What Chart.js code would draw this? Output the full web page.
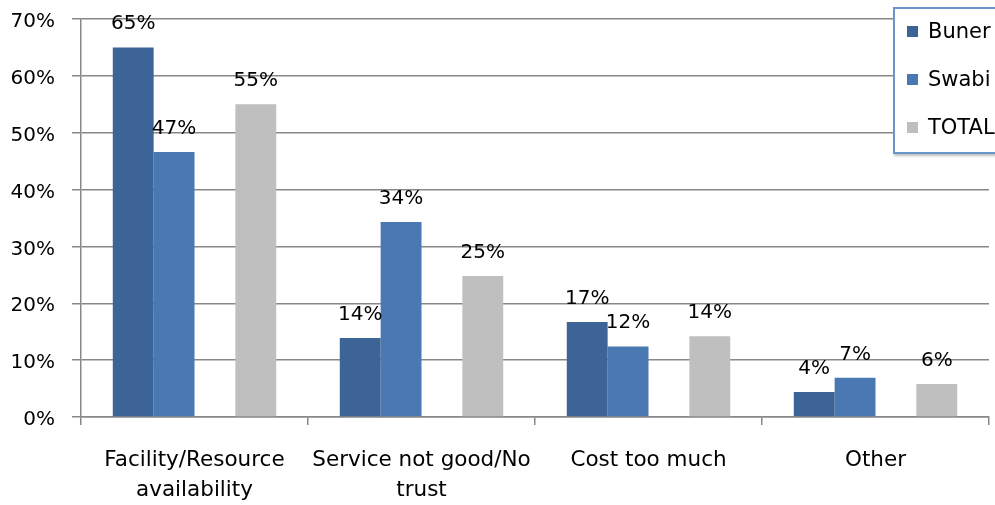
<!DOCTYPE html>
<html>
<head>
<meta charset="utf-8">
<script src="https://cdn.jsdelivr.net/npm/chart.js@4/dist/chart.umd.min.js"></script>
<style>
    body { margin: 0; background: #ffffff; }
    .wrap { position: relative; width: 995px; height: 505px; overflow: hidden; }
    .legenda {
        position: absolute; left: 893px; top: 7px; width: 120px; height: 143px;
        border: 2px solid #6a94cc; background: #ffffff;
        box-shadow: 1px 2px 2px rgba(0,0,0,0.25);
        font-family: "DejaVu Sans", sans-serif; font-size: 21px; color: #000;
    }
    .item { position: absolute; left: 12px; height: 24px; line-height: 24px; white-space: nowrap; }
    .item span { display: inline-block; width: 11px; height: 11px; margin-right: 10px; vertical-align: 1px; }
</style>
</head>
<body>
<div class="wrap">
    <canvas id="grafico" width="995" height="505"></canvas>
    <div class="legenda" id="legenda"></div>
</div>
<script>
const categorias = [
    ['Facility/Resource', 'availability'],
    ['Service not good/No', 'trust'],
    'Cost too much',
    'Other'
];
const buner = [65, 13.9, 16.7, 4.4];
const swabi = [46.6, 34.3, 12.4, 6.9];
const total = [55, 24.8, 14.2, 5.8];
const espaco = [null, null, null, null];
const ticksY = [0, 10, 20, 30, 40, 50, 60, 70];

const cores = { buner: '#3c6496', swabi: '#4a78b2', total: '#bfbfbf' };
const fonte = 'DejaVu Sans';

const rotulosBarras = {
    id: 'rotulosBarras',
    afterDatasetsDraw(chart) {
        const ctx = chart.ctx;
        ctx.save();
        ctx.font = '20px "' + fonte + '"';
        ctx.fillStyle = '#000';
        ctx.textAlign = 'center';
        ctx.textBaseline = 'alphabetic';
        chart.data.datasets.forEach((ds, i) => {
            if (!ds.label) return;
            chart.getDatasetMeta(i).data.forEach((bar, j) => {
                const v = ds.data[j];
                ctx.fillText(Math.round(v) + '%', bar.x, bar.y - 18);
            });
        });
        ctx.restore();
    }
};

const ctx = document.getElementById('grafico');
const chart = new Chart(ctx, {
    type: 'bar',
    data: {
        labels: categorias,
        datasets: [
            { label: 'Buner', data: buner, backgroundColor: cores.buner },
            { label: 'Swabi', data: swabi, backgroundColor: cores.swabi },
            { label: '', data: espaco, backgroundColor: 'rgba(0,0,0,0)' },
            { label: 'TOTAL', data: total, backgroundColor: cores.total }
        ]
    },
    options: {
        responsive: false,
        animation: false,
        layout: { padding: { top: 19, right: 6, left: 0, bottom: 0 } },
        datasets: {
            bar: { barPercentage: 1, categoryPercentage: 0.72, borderWidth: 0 }
        },
        plugins: {
            legend: { display: false },
            tooltip: { enabled: false }
        },
        scales: {
            y: {
                min: 0,
                max: 70,
                afterBuildTicks: scale => { scale.ticks = ticksY.map(v => ({ value: v })); },
                afterFit: scale => {
                    scale.width = 81;
                    scale.paddingTop = 0;
                    scale.paddingBottom = 0;
                },
                border: { color: '#888888', width: 1.5 },
                grid: { color: '#888888', lineWidth: 1.5, tickLength: 9 },
                ticks: {
                    color: '#000',
                    font: { family: fonte, size: 20 },
                    padding: 17,
                    labelOffset: 3,
                    callback: v => v + '%'
                }
            },
            x: {
                afterFit: scale => { scale.height = 88; },
                border: { color: '#888888', width: 1.5 },
                grid: { offset: true, drawOnChartArea: false, color: '#888888', lineWidth: 1.5, tickLength: 8 },
                ticks: {
                    color: '#000',
                    font: { family: fonte, size: 21.5, lineHeight: 1.42 },
                    padding: 20,
                    maxRotation: 0
                }
            }
        }
    },
    plugins: [rotulosBarras]
});

// legenda em HTML
const legenda = document.getElementById('legenda');
const itens = [['Buner', cores.buner], ['Swabi', cores.swabi], ['TOTAL', cores.total]];
itens.forEach((it, i) => {
    const d = document.createElement('div');
    d.className = 'item';
    d.style.top = (10 + i * 48) + 'px';
    d.innerHTML = '<span style="background:' + it[1] + '"></span>' + it[0];
    legenda.appendChild(d);
});
</script>
</body>
</html>
